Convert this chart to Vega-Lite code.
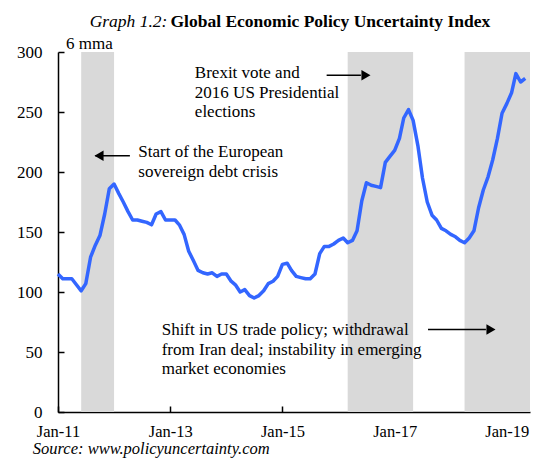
{
  "$schema": "https://vega.github.io/schema/vega-lite/v6.json",
  "autosize": "none",
  "width": 472,
  "height": 360,
  "padding": {"left": 58, "top": 52, "right": 7, "bottom": 51},
  "background": "white",
  "view": {"stroke": null},
  "config": {
    "font": "Liberation Serif",
    "axis": {
      "title": null,
      "labelFont": "Liberation Serif",
      "labelFontSize": 17,
      "labelColor": "black",
      "labelFlush": false,
      "labelOverlap": false,
      "tickSize": -6,
      "tickColor": "black",
      "tickWidth": 1.5,
      "domainColor": "black",
      "domainWidth": 1.5,
      "grid": false
    }
  },
  "datasets": {
    "epu": [
      {"date":"2011-01-01","value":115},{"date":"2011-02-01","value":111},{"date":"2011-03-01","value":111},{"date":"2011-04-01","value":111},{"date":"2011-05-01","value":106},{"date":"2011-06-01","value":101},{"date":"2011-07-01","value":107},{"date":"2011-08-01","value":129},{"date":"2011-09-01","value":139},{"date":"2011-10-01","value":147},{"date":"2011-11-01","value":165},{"date":"2011-12-01","value":186},
      {"date":"2012-01-01","value":190},{"date":"2012-02-01","value":182},{"date":"2012-03-01","value":175},{"date":"2012-04-01","value":167},{"date":"2012-05-01","value":160},{"date":"2012-06-01","value":160},{"date":"2012-07-01","value":159},{"date":"2012-08-01","value":158},{"date":"2012-09-01","value":156},{"date":"2012-10-01","value":165},{"date":"2012-11-01","value":167},{"date":"2012-12-01","value":160},
      {"date":"2013-01-01","value":160},{"date":"2013-02-01","value":160},{"date":"2013-03-01","value":156},{"date":"2013-04-01","value":148},{"date":"2013-05-01","value":134},{"date":"2013-06-01","value":126},{"date":"2013-07-01","value":118},{"date":"2013-08-01","value":116},{"date":"2013-09-01","value":115},{"date":"2013-10-01","value":116},{"date":"2013-11-01","value":113},{"date":"2013-12-01","value":115},
      {"date":"2014-01-01","value":115},{"date":"2014-02-01","value":109},{"date":"2014-03-01","value":106},{"date":"2014-04-01","value":100},{"date":"2014-05-01","value":102},{"date":"2014-06-01","value":97},{"date":"2014-07-01","value":95},{"date":"2014-08-01","value":97},{"date":"2014-09-01","value":101},{"date":"2014-10-01","value":107},{"date":"2014-11-01","value":109},{"date":"2014-12-01","value":113},
      {"date":"2015-01-01","value":123},{"date":"2015-02-01","value":124},{"date":"2015-03-01","value":118},{"date":"2015-04-01","value":113},{"date":"2015-05-01","value":112},{"date":"2015-06-01","value":111},{"date":"2015-07-01","value":111},{"date":"2015-08-01","value":115},{"date":"2015-09-01","value":132},{"date":"2015-10-01","value":138},{"date":"2015-11-01","value":138},{"date":"2015-12-01","value":140},
      {"date":"2016-01-01","value":143},{"date":"2016-02-01","value":145},{"date":"2016-03-01","value":141},{"date":"2016-04-01","value":143},{"date":"2016-05-01","value":151},{"date":"2016-06-01","value":176},{"date":"2016-07-01","value":191},{"date":"2016-08-01","value":189},{"date":"2016-09-01","value":188},{"date":"2016-10-01","value":187},{"date":"2016-11-01","value":208},{"date":"2016-12-01","value":213},
      {"date":"2017-01-01","value":218},{"date":"2017-02-01","value":228},{"date":"2017-03-01","value":245},{"date":"2017-04-01","value":252},{"date":"2017-05-01","value":243},{"date":"2017-06-01","value":222},{"date":"2017-07-01","value":195},{"date":"2017-08-01","value":175},{"date":"2017-09-01","value":164},{"date":"2017-10-01","value":160},{"date":"2017-11-01","value":153},{"date":"2017-12-01","value":151},
      {"date":"2018-01-01","value":148},{"date":"2018-02-01","value":146},{"date":"2018-03-01","value":143},{"date":"2018-04-01","value":141},{"date":"2018-05-01","value":145},{"date":"2018-06-01","value":151},{"date":"2018-07-01","value":170},{"date":"2018-08-01","value":185},{"date":"2018-09-01","value":196},{"date":"2018-10-01","value":210},{"date":"2018-11-01","value":228},{"date":"2018-12-01","value":249},
      {"date":"2019-01-01","value":257},{"date":"2019-02-01","value":266},{"date":"2019-03-01","value":282},{"date":"2019-04-01","value":275},{"date":"2019-05-01","value":278}
    ],
    "bands": [
      {"start":"2011-06-01","end":"2012-01-01","lo":0,"hi":300},
      {"start":"2016-03-01","end":"2017-05-01","lo":0,"hi":300},
      {"start":"2018-04-01","end":"2019-06-01","lo":0,"hi":300}
    ],
    "arrows": [
      {"dir":"left","from":"2011-09-01","to":"2012-04-13","head":"2011-09-25","y":213.5},
      {"dir":"right","from":"2015-10-16","to":"2016-05-26","head":"2016-06-28","y":280.6},
      {"dir":"right","from":"2017-08-06","to":"2018-08-18","head":"2018-09-20","y":68.7}
    ],
    "notes": [
      {"date":"2012-06-07","y":212.5,"text":"Start of the European\nsovereign debt crisis"},
      {"date":"2013-06-10","y":278.3,"text":"Brexit vote and\n2016 US Presidential\nelections"},
      {"date":"2012-11-06","y":63.9,"text":"Shift in US trade policy; withdrawal\nfrom Iran deal; instability in emerging\nmarket economies"},
      {"date":"2011-02-22","y":302.8,"text":"6 mma"}
    ],
    "titleItalic": [{"date":"2012-12-20","y":320.8,"text":"Graph 1.2:"}],
    "titleBold": [{"date":"2012-12-20","y":320.8,"text":"Global Economic Policy Uncertainty Index"}],
    "source": [{"date":"2010-07-21","y":-35,"text":"Source: www.policyuncertainty.com"}]
  },
  "layer": [
    {
      "data": {"name": "bands"},
      "mark": {"type": "rect", "color": "#d9d9d9"},
      "encoding": {
        "x": {
          "field": "start", "type": "temporal", "title": null,
          "scale": {"type": "utc", "domain": [{"year":2011,"month":1,"date":1,"utc":true},{"year":2019,"month":6,"date":1,"utc":true}]},
          "axis": {
            "values": [{"year":2011,"month":1,"date":1,"utc":true},{"year":2013,"month":1,"date":1,"utc":true},{"year":2015,"month":1,"date":1,"utc":true},{"year":2017,"month":1,"date":1,"utc":true},{"year":2019,"month":1,"date":1,"utc":true}],
            "labelExpr": "utcFormat(datum.value, '%b-%y')",
            "labelFontSize": 16.5,
            "labelPadding": 17
          }
        },
        "x2": {"field": "end"},
        "y": {
          "field": "lo", "type": "quantitative", "title": null,
          "scale": {"domain": [0, 300], "nice": false, "zero": false},
          "axis": {"values": [0, 50, 100, 150, 200, 250, 300], "labelPadding": 22}
        },
        "y2": {"field": "hi"}
      }
    },
    {
      "data": {"name": "epu"},
      "mark": {"type": "line", "color": "#3366ff", "strokeWidth": 3.5, "strokeJoin": "round"},
      "encoding": {
        "x": {"field": "date", "type": "temporal", "title": null},
        "y": {"field": "value", "type": "quantitative", "title": null}
      }
    },
    {
      "data": {"name": "arrows"},
      "mark": {"type": "rule", "color": "black", "strokeWidth": 1.5},
      "encoding": {
        "x": {"field": "from", "type": "temporal", "title": null},
        "x2": {"field": "to"},
        "y": {"field": "y", "type": "quantitative", "title": null}
      }
    },
    {
      "data": {"name": "arrows"},
      "transform": [{"filter": "datum.dir === 'left'"}],
      "mark": {"type": "point", "shape": "triangle-left", "filled": true, "color": "black", "size": 110, "opacity": 1},
      "encoding": {
        "x": {"field": "head", "type": "temporal", "title": null},
        "y": {"field": "y", "type": "quantitative", "title": null}
      }
    },
    {
      "data": {"name": "arrows"},
      "transform": [{"filter": "datum.dir === 'right'"}],
      "mark": {"type": "point", "shape": "triangle-right", "filled": true, "color": "black", "size": 110, "opacity": 1},
      "encoding": {
        "x": {"field": "head", "type": "temporal", "title": null},
        "y": {"field": "y", "type": "quantitative", "title": null}
      }
    },
    {
      "data": {"name": "notes"},
      "mark": {"type": "text", "align": "left", "baseline": "alphabetic", "font": "Liberation Serif", "fontSize": 17, "lineBreak": "\n", "lineHeight": 19.5, "color": "black"},
      "encoding": {
        "x": {"field": "date", "type": "temporal", "title": null},
        "y": {"field": "y", "type": "quantitative", "title": null},
        "text": {"field": "text"}
      }
    },
    {
      "data": {"name": "titleItalic"},
      "mark": {"type": "text", "align": "right", "baseline": "alphabetic", "font": "Liberation Serif", "fontSize": 17.5, "fontStyle": "italic", "dx": -1, "color": "black"},
      "encoding": {
        "x": {"field": "date", "type": "temporal", "title": null},
        "y": {"field": "y", "type": "quantitative", "title": null},
        "text": {"field": "text"}
      }
    },
    {
      "data": {"name": "titleBold"},
      "mark": {"type": "text", "align": "left", "baseline": "alphabetic", "font": "Liberation Serif", "fontSize": 17.5, "fontWeight": "bold", "dx": 2, "color": "black"},
      "encoding": {
        "x": {"field": "date", "type": "temporal", "title": null},
        "y": {"field": "y", "type": "quantitative", "title": null},
        "text": {"field": "text"}
      }
    },
    {
      "data": {"name": "source"},
      "mark": {"type": "text", "align": "left", "baseline": "alphabetic", "font": "Liberation Serif", "fontSize": 16.5, "fontStyle": "italic", "color": "black"},
      "encoding": {
        "x": {"field": "date", "type": "temporal", "title": null},
        "y": {"field": "y", "type": "quantitative", "title": null},
        "text": {"field": "text"}
      }
    }
  ]
}
